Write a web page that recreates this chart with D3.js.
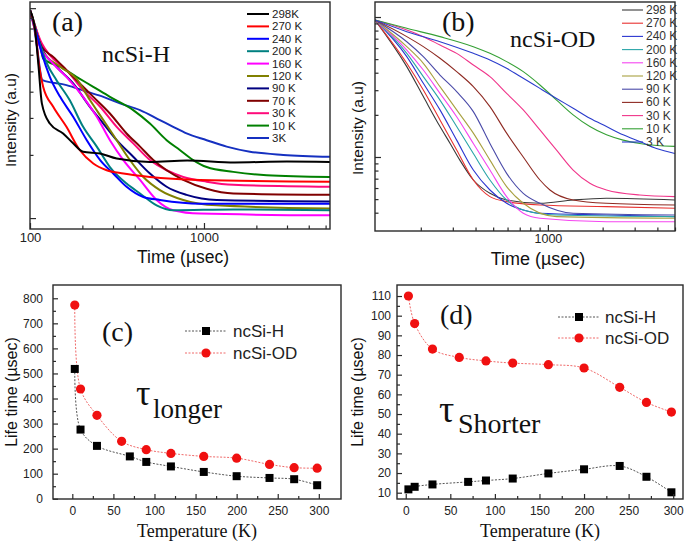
<!DOCTYPE html>
<html><head><meta charset="utf-8">
<script src="https://cdn.jsdelivr.net/npm/d3@7"></script>
<style>body{margin:0;background:#fff}svg{display:block}</style>
</head><body><svg id="c" width="685" height="544"></svg>
<script>
// ---------- Panel (a): ncSi-H decay curves [time µs, intensity a.u.] ----------
const labelsA = ["298K","270 K","240 K","200 K","160 K","120 K","90 K","70 K","30 K","10 K","3K"];
const colorsA = ["#000000","#ff0000","#0000ff","#008080","#ff00ff","#808000","#000080","#800000","#ff0a7a","#008000","#1530c0"];
const h298 = [[100,9.78],[107,7.86],[112,5.26],[117,3.52],[130,2.82],[155,2.53],[177,2.27],[202,2.07],[253,2.03],[315,1.92],[489,1.85],[800,1.88],[1500,1.84],[3000,1.86],[5300,1.85]];
const h270 = [[100,9.78],[107,7.86],[113,5.26],[119,4.22],[136,3.39],[162,2.72],[193,2.11],[231,1.82],[276,1.69],[344,1.63],[489,1.57],[948,1.52],[5300,1.49]];
const h240 = [[100,9.78],[109,7.57],[117,6.08],[130,4.71],[149,3.78],[177,3.04],[212,2.35],[253,1.89],[301,1.63],[359,1.41],[448,1.26],[558,1.22],[948,1.17],[5300,1.17]];
const h200 = [[100,9.78],[112,7.04],[125,5.45],[142,4.54],[169,3.65],[202,2.72],[242,2.19],[288,1.75],[359,1.46],[429,1.31],[534,1.15],[665,1.09],[1474,1.10],[5300,1.09]];
const h160 = [[100,9.78],[114,6.54],[130,5.65],[162,4.71],[202,3.78],[242,3.04],[288,2.35],[344,1.89],[429,1.52],[534,1.22],[665,1.09],[948,1.05],[5300,1.03]];
const h120 = [[100,9.78],[117,6.31],[149,5.26],[185,4.62],[221,3.65],[264,2.93],[315,2.35],[375,1.89],[448,1.57],[558,1.36],[760,1.22],[1183,1.15],[5300,1.11]];
const h90  = [[100,9.78],[117,6.43],[142,5.26],[177,4.38],[221,3.39],[264,2.82],[315,2.35],[392,1.96],[489,1.63],[610,1.41],[794,1.29],[1183,1.22],[5300,1.20]];
const h70  = [[100,9.78],[117,6.54],[136,5.86],[162,5.07],[185,4.54],[231,3.78],[288,3.15],[359,2.53],[429,2.19],[511,1.89],[610,1.69],[760,1.52],[1036,1.38],[1474,1.31],[5300,1.29]];
const h30  = [[100,9.78],[117,6.79],[130,5.97],[162,5.07],[202,4.07],[253,3.39],[315,2.72],[392,2.27],[489,1.89],[610,1.69],[760,1.57],[1036,1.49],[1474,1.44],[5300,1.41]];
const h10  = [[100,9.78],[114,6.79],[119,5.76],[149,5.26],[185,4.71],[231,4.22],[288,3.78],[392,3.27],[489,2.82],[610,2.35],[726,2.11],[867,1.89],[1036,1.75],[1474,1.66],[2293,1.60],[5300,1.57]];
const h3   = [[100,9.78],[104,8.77],[109,6.79],[118,4.54],[162,4.30],[212,4.00],[264,3.78],[329,3.52],[429,3.27],[558,2.93],[665,2.72],[794,2.53],[1036,2.35],[1350,2.19],[1837,2.07],[2856,2.00],[5300,1.96]];
const seriesA = [h298,h270,h240,h200,h160,h120,h90,h70,h30,h10,h3];

// ---------- Panel (b): ncSi-OD decay curves ----------
const labelsB = ["298 K","270 K","240 K","200 K","160 K","120 K","90 K","60 K","30 K","10 K","3 K"];
const colorsB = ["#3a3a3a","#e8312f","#2b35d0","#2aa5a8","#f545f0","#a8a040","#4a4aa8","#8e2a22","#f0358a","#35a035","#2a3ccc"];
const od298 = [[112,9.52],[167.5,4.42],[206.5,2.70],[255,1.65],[290,1.25],[328,0.95],[389,0.685],[480,0.55],[593,0.493],[904,0.467],[1377,0.493],[2100,0.507],[4990,0.493]];
const od270 = [[112,9.52],[167.5,4.67],[206.5,3.01],[255,1.84],[315,1.12],[389,0.685],[480,0.521],[593,0.48],[904,0.454],[2100,0.442],[4990,0.43]];
const od240 = [[112,9.52],[167.5,5.21],[206.5,3.36],[255,2.17],[315,1.32],[389,0.807],[480,0.581],[593,0.467],[732,0.418],[904,0.396],[2100,0.385],[4990,0.375]];
const od200 = [[112,9.52],[167.5,5.50],[206.5,3.75],[255,2.55],[315,1.65],[389,1.06],[480,0.685],[593,0.493],[732,0.418],[1116,0.385],[4990,0.375]];
const od160 = [[112,9.52],[167.5,5.81],[206.5,4.18],[255,2.85],[315,1.94],[389,1.25],[480,0.807],[593,0.521],[732,0.396],[904,0.365],[2100,0.345],[4990,0.345]];
const od120 = [[112,9.52],[167.5,6.14],[206.5,4.67],[255,3.18],[315,2.17],[389,1.48],[480,0.95],[593,0.614],[732,0.467],[1116,0.375],[4990,0.365]];
const od90  = [[112,9.52],[167.5,6.66],[206.5,5.21],[255,3.85],[315,2.93],[389,2.11],[480,1.25],[593,0.764],[732,0.55],[904,0.467],[1377,0.396],[4990,0.385]];
const od60  = [[112,9.52],[167.5,7.24],[206.5,6.14],[255,5.07],[315,4.07],[389,3.18],[480,2.29],[593,1.48],[732,1.0],[904,0.685],[1026,0.581],[1377,0.493],[2100,0.467],[4990,0.454]];
const od30  = [[112,9.52],[167.5,8.08],[206.5,7.24],[255,6.31],[315,5.50],[389,4.54],[480,3.75],[593,2.85],[732,2.17],[904,1.56],[1116,1.12],[1377,0.807],[1701,0.649],[2100,0.581],[3201,0.535],[4990,0.521]];
const od10  = [[112,9.52],[167.5,8.30],[255,7.24],[389,6.14],[480,5.50],[593,4.80],[732,4.07],[904,3.27],[1116,2.55],[1377,2.0],[1701,1.65],[2100,1.44],[2592,1.32],[3201,1.25],[4990,1.19]];
const od3   = [[112,9.52],[167.5,7.86],[255,6.66],[389,5.50],[480,4.93],[593,4.30],[732,3.65],[904,3.09],[1116,2.62],[1377,2.23],[1701,1.89],[2100,1.65],[2592,1.44],[3201,1.29],[3953,1.15],[4990,1.06]];
const seriesB = [od298,od270,od240,od200,od160,od120,od90,od60,od30,od10,od3];

// ---------- Panels (c), (d): lifetimes vs temperature ----------
const tempH  = [3,10,30,70,90,120,160,200,240,270,298];
const tempOD = [3,10,30,60,90,120,160,200,240,270,298];
const longH  = [518,276,211,169,147,129,107,90,83,78,54];
const longOD = [773,438,333,229,196,181,169,162,137,124,122];
const shortH = [11.7,13,14.2,15.5,16.2,17.2,19.8,21.9,23.6,18.1,10.2];
const shortOD= [110,96,83,78.8,77,75.9,75.1,73.4,63.6,55.9,51];
const seriesNames = ["ncSi-H","ncSi-OD"];

// tick values
const tickTimeMajorA = [100,1000];
const tickTimeMinorA = [200,300,400,500,600,700,800,900,2000,3000,4000,5000];
const tickIntMajor = [1,10];
const tickIntMinorA = [2,3,4,5,6,7,8,9];
const tickTimeMajorB = [1000];
const tickTimeMinorB = [200,300,400,500,600,700,800,900,2000,3000,4000,5000];
const tickIntMinorB = [0.4,0.5,0.6,0.7,0.8,0.9,2,3,4,5,6,7,8,9];
const tickTemp = [0,50,100,150,200,250,300];
const tickTempMinor = [25,75,125,175,225,275];
const tickLongMajor = [0,100,200,300,400,500,600,700,800];
const tickLongMinor = [50,150,250,350,450,550,650,750];
const tickShortMajor = [10,20,30,40,50,60,70,80,90,100,110];
const tickShortMinor = [15,25,35,45,55,65,75,85,95,105];

const svg = d3.select("#c");
const FR = "#2a2a2a";
const SANS = "Arial, 'Liberation Sans', sans-serif";
const SERIF = "'Times New Roman', 'Liberation Serif', serif";

function frame(x0,y0,x1,y1){
  svg.append("rect").attr("x",x0).attr("y",y0).attr("width",x1-x0).attr("height",y1-y0)
    .attr("fill","none").attr("stroke",FR).attr("stroke-width",1.4);
}
function clip(id,x0,y0,x1,y1){
  svg.append("clipPath").attr("id",id).append("rect").attr("x",x0).attr("y",y0).attr("width",x1-x0).attr("height",y1-y0);
}
function axis(gen, transform, values, size, pad, fmt, fs){
  const g = svg.append("g").attr("transform",transform)
    .call(gen.tickValues(values).tickSizeInner(-size).tickSizeOuter(0).tickPadding(pad).tickFormat(fmt));
  g.select(".domain").remove();
  g.selectAll("line").attr("stroke",FR).attr("stroke-width",1.2);
  g.selectAll("text").attr("font-family",SANS).attr("font-size",fs).attr("fill","#222");
  return g;
}
function txt(x,y,s,fs,fam,opts={}){
  const t = svg.append("text").attr("x",x).attr("y",y).text(s).attr("font-size",fs).attr("font-family",fam).attr("fill",opts.fill||"#111");
  if(opts.anchor) t.attr("text-anchor",opts.anchor);
  if(opts.rot) t.attr("transform",`rotate(-90,${x},${y})`);
  return t;
}

// ================= Panel (a) =================
const xA = d3.scaleLog().domain([100,5300]).range([30,330]);
const yA = d3.scaleLog().domain([0.887,10.7]).range([229,2]);
clip("ca",30,2,330,229);
const lineA = d3.line().x(d=>xA(d[0])).y(d=>yA(d[1])).curve(d3.curveMonotoneX);
const gA = svg.append("g").attr("clip-path","url(#ca)");
seriesA.map((s,i)=>({s,i})).reverse().forEach(({s,i})=>{
  gA.append("path").attr("d",lineA(s)).attr("fill","none").attr("stroke",colorsA[i]).attr("stroke-width",2).attr("stroke-linejoin","round");
});
axis(d3.axisBottom(xA),"translate(0,229)",tickTimeMajorA,6,3.5,d=>d,13);
axis(d3.axisBottom(xA),"translate(0,229)",tickTimeMinorA,3.5,0,()=>"",13);
axis(d3.axisLeft(yA),"translate(30,0)",tickIntMajor,6,0,()=>"",13);
axis(d3.axisLeft(yA),"translate(30,0)",tickIntMinorA,3.5,0,()=>"",13);
frame(30,2,330,229);
labelsA.forEach((l,i)=>{
  const y = 14 + i*12.4;
  svg.append("line").attr("x1",247).attr("x2",269).attr("y1",y).attr("y2",y).attr("stroke",colorsA[i]).attr("stroke-width",2);
  txt(272,y+4,l,11.5,SANS,{fill:"#222"});
});
txt(52,31,"(a)",28,SERIF);
txt(102,62,"ncSi-H",24,SERIF);
txt(16,120,"Intensity (a.u)",15.5,SANS,{anchor:"middle",rot:true});
txt(183,263,"Time (\u00b5sec)",17.5,SANS,{anchor:"middle"});

// ================= Panel (b) =================
const xB = d3.scaleLog().domain([112,5000]).range([375,675]);
const yB = d3.scaleLog().domain([0.296,12.8]).range([231,2]);
clip("cb",375,2,675,231);
const lineB = d3.line().x(d=>xB(d[0])).y(d=>yB(d[1])).curve(d3.curveMonotoneX);
const gB = svg.append("g").attr("clip-path","url(#cb)");
seriesB.forEach((s,i)=>{
  gB.append("path").attr("d",lineB(s)).attr("fill","none").attr("stroke",colorsB[i]).attr("stroke-width",1.1);
});
axis(d3.axisBottom(xB),"translate(0,231)",tickTimeMajorB,6,3.5,d=>d,12.5);
axis(d3.axisBottom(xB),"translate(0,231)",tickTimeMinorB,3.5,0,()=>"",13);
axis(d3.axisLeft(yB),"translate(375,0)",tickIntMajor,6,0,()=>"",13);
axis(d3.axisLeft(yB),"translate(375,0)",tickIntMinorB,3.5,0,()=>"",13);
frame(375,2,675,231);
labelsB.forEach((l,i)=>{
  const y = 10 + i*13.2;
  svg.append("line").attr("x1",622).attr("x2",643).attr("y1",y).attr("y2",y).attr("stroke",colorsB[i]).attr("stroke-width",1.1);
  txt(646,y+4,l,12,SANS,{fill:"#333"});
});
txt(442,31,"(b)",28,SERIF);
txt(510,47,"ncSi-OD",24,SERIF);
txt(363,128,"Intensity (a.u)",15.5,SANS,{anchor:"middle",rot:true});
txt(538,265,"Time (\u00b5sec)",18,SANS,{anchor:"middle"});

// ================= Panels (c), (d) =================
const colH = "#000", colOD = "#f01010";
const lnH = "#555", lnOD = "#f06a6a";
function tempPanel(x, y, x0,x1,y0,y1, tMaj,tMin,yMaj,yMin, H, OD, ypad){
  const line = d3.line().curve(d3.curveCatmullRom.alpha(0.5));
  const g = svg.append("g");
  g.append("path").attr("d",line(tempH.map((t,i)=>[x(t),y(H[i])]))).attr("fill","none").attr("stroke",lnH).attr("stroke-width",1).attr("stroke-dasharray","2,1.5");
  g.append("path").attr("d",line(tempOD.map((t,i)=>[x(t),y(OD[i])]))).attr("fill","none").attr("stroke",lnOD).attr("stroke-width",1).attr("stroke-dasharray","2,1.5");
  g.selectAll(".sq").data(tempH).join("rect").attr("x",(t)=>x(t)-4).attr("y",(t,i)=>y(H[i])-4).attr("width",8).attr("height",8).attr("fill",colH);
  g.selectAll(".ci").data(tempOD).join("circle").attr("cx",t=>x(t)).attr("cy",(t,i)=>y(OD[i])).attr("r",4.6).attr("fill",colOD);
  axis(d3.axisBottom(x),`translate(0,${y1})`,tMaj,5,7,d=>d,12);
  axis(d3.axisBottom(x),`translate(0,${y1})`,tMin,3,0,()=>"",12);
  axis(d3.axisLeft(y),`translate(${x0},0)`,yMaj,5,ypad,d=>d,12);
  axis(d3.axisLeft(y),`translate(${x0},0)`,yMin,3,0,()=>"",12);
  frame(x0,y0,x1,y1);
}
// (c)
const xC = d3.scaleLinear().domain([-23.5,327]).range([53,341]);
const yC = d3.scaleLinear().domain([-1,853]).range([499,285]);
tempPanel(xC,yC,53,341,285,499,tickTemp,tickTempMinor,tickLongMajor,tickLongMinor,longH,longOD,10);
// (d)
const xD = d3.scaleLinear().domain([-9.8,311]).range([397,683]);
const yD = d3.scaleLinear().domain([6.8,115.6]).range([499,285]);
tempPanel(xD,yD,397,683,285,499,tickTemp,tickTempMinor,tickShortMajor,tickShortMinor,shortH,shortOD,6);

function legend(lx0,lx1,ys,tx){
  [0,1].forEach(k=>{
    const y = ys[k];
    svg.append("line").attr("x1",lx0).attr("x2",lx1).attr("y1",y).attr("y2",y).attr("stroke",k?lnOD:lnH).attr("stroke-width",1).attr("stroke-dasharray","2,1.5");
    const mx=(lx0+lx1)/2;
    if(k) svg.append("circle").attr("cx",mx).attr("cy",y).attr("r",4.6).attr("fill",colOD);
    else svg.append("rect").attr("x",mx-4).attr("y",y-4).attr("width",8).attr("height",8).attr("fill",colH);
    txt(tx,y+6,seriesNames[k],17,SANS,{fill:"#222"});
  });
}
legend(185,227,[331,353],233);
legend(558,600,[317,338],605);

txt(102,341,"(c)",28,SERIF);
txt(440,324,"(d)",28,SERIF);
// tau labels
txt(136,405,"\u03c4",36,SERIF);
txt(153,418,"longer",27,SERIF);
txt(439,422,"\u03c4",38,SERIF);
txt(458,433,"Shorter",28,SERIF);

txt(17,392,"Life time (\u00b5sec)",16,SANS,{anchor:"middle",rot:true});
txt(363,392,"Life time (\u00b5sec)",16,SANS,{anchor:"middle",rot:true});
txt(197,537,"Temperature (K)",18,SERIF,{anchor:"middle"});
txt(540,537,"Temperature (K)",18,SERIF,{anchor:"middle"});
</script></body></html>
